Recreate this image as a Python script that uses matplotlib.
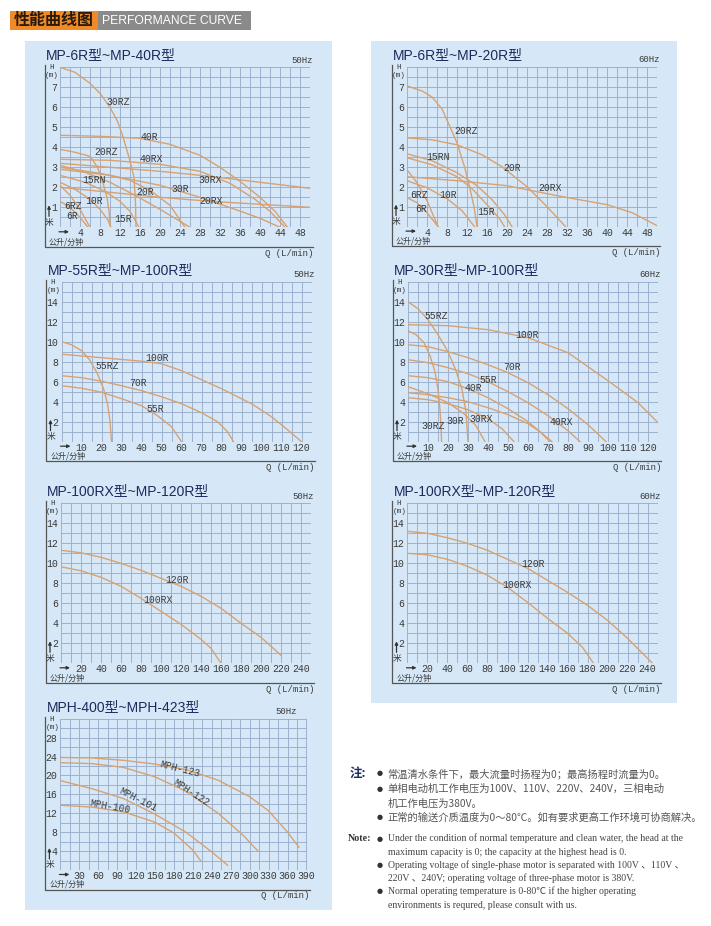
import numpy as np
import matplotlib
matplotlib.use('Agg')
import matplotlib.pyplot as plt
from matplotlib.patches import Rectangle

W, H = 711, 926

# ---------------- data (Q in L/min, H in m) ----------------
# MP-6R ~ MP-40R, 50Hz
p1_models = ['30RZ', '40R', '20RZ', '40RX', '30RX', '20RX', '30R', '20R', '15RN', '15R', '10R', '6RZ', '6R']
p1_q = [[0, 3, 6, 8, 10, 11.5, 12.5, 13.8, 14.8, 15.1, 15.2],
        [0, 8, 16, 22, 28, 32, 36, 40, 43, 45.5],
        [0, 3, 6, 7.5, 8.5, 9.4, 9.8, 10.1],
        [0, 10, 20, 28, 34, 39, 42, 45],
        [0, 10, 20, 30, 40, 50],
        [0, 10, 20, 30, 40, 50],
        [0, 10, 20, 28, 35, 40, 44],
        [0, 8, 14, 18, 22, 25],
        [0, 5, 10, 15, 20, 24, 26],
        [0, 5, 9, 12, 14, 15.8],
        [0, 3, 6, 8, 9.5, 10.2],
        [0, 2, 4, 6],
        [0, 2, 4, 5.6]]
p1_h = [[8.0, 7.75, 7.2, 6.7, 6.0, 5.3, 4.6, 3.5, 2.5, 1.2, 0],
        [4.6, 4.55, 4.45, 4.15, 3.6, 3.0, 2.3, 1.5, 0.8, 0],
        [3.9, 3.75, 3.55, 3.0, 2.3, 1.5, 0.8, 0],
        [3.4, 3.35, 3.15, 2.8, 2.2, 1.4, 0.8, 0],
        [3.2, 3.0, 2.8, 2.55, 2.25, 1.95],
        [2.0, 1.75, 1.5, 1.3, 1.15, 1.0],
        [2.9, 2.6, 2.1, 1.5, 0.9, 0.45, 0],
        [3.0, 2.7, 2.35, 1.85, 1.1, 0],
        [3.1, 2.75, 2.25, 1.6, 0.9, 0.3, 0],
        [2.6, 2.25, 1.8, 1.3, 0.8, 0],
        [2.25, 1.9, 1.4, 0.9, 0.4, 0],
        [2.1, 1.6, 0.9, 0],
        [1.3, 1.0, 0.5, 0]]

# MP-6R ~ MP-20R, 60Hz
p2_models = ['20RZ', '20R', '15RN', '15R', '20RX', '10R', '6RZ', '6R']
p2_q = [[0, 3, 5, 7, 8.6, 10, 11.5, 12.5, 13.4, 14],
        [0, 5, 10, 15, 19, 24, 28, 31.7],
        [0, 5, 10, 14, 17, 19.5, 21],
        [0, 5, 10, 13, 16, 18.5, 19.5],
        [0, 10, 20, 24, 30, 40, 45, 50],
        [0, 4, 8, 11, 13.5],
        [0, 2, 4, 6.2],
        [0, 2, 4, 6.2]]
p2_h = [[7.05, 6.8, 6.5, 5.9, 5.0, 4.2, 3.0, 2.0, 1.0, 0],
        [4.45, 4.35, 4.1, 3.6, 3.0, 2.0, 1.0, 0],
        [3.65, 3.3, 2.7, 2.05, 1.35, 0.6, 0],
        [3.45, 3.1, 2.5, 1.9, 1.1, 0.4, 0],
        [2.5, 2.3, 2.05, 1.85, 1.55, 1.1, 0.7, 0.05],
        [2.3, 1.95, 1.4, 0.8, 0],
        [2.85, 2.2, 1.3, 0],
        [1.45, 1.2, 0.7, 0]]

# MP-55R ~ MP-100R, 50Hz
p3_models = ['100R', '55RZ', '70R', '55R']
p3_q = [[0, 20, 40, 50, 60, 80, 95, 105, 113, 120],
        [0, 5, 10, 14, 18, 21, 23, 24.3, 25],
        [0, 10, 20, 30, 40, 50, 60, 70, 78, 83, 86],
        [0, 10, 20, 30, 40, 48, 55, 60]]
p3_h = [[8.75, 8.4, 8.05, 7.8, 7.1, 5.3, 3.8, 2.5, 1.2, 0],
        [10.0, 9.7, 9.1, 8.2, 6.8, 5.3, 3.8, 2.0, 0],
        [6.6, 6.4, 6.05, 5.6, 5.1, 4.5, 3.8, 2.9, 2.0, 1.0, 0],
        [5.6, 5.35, 4.95, 4.3, 3.6, 2.6, 1.5, 0]]

# MP-30R ~ MP-100R, 60Hz
p4_models = ['55RZ', '100R', '70R', '55R', '40R', '30RZ', '30R', '30RX', '40RX']
p4_q = [[0, 5, 10, 15, 20, 24, 27, 29, 30],
        [0, 20, 40, 60, 80, 100, 115, 125],
        [0, 10, 20, 30, 40, 50, 60, 70, 80, 90, 99],
        [0, 10, 20, 30, 40, 50, 60, 70, 80, 86],
        [0, 10, 20, 30, 40, 50, 60, 66, 71],
        [0, 4, 8, 11, 13.5, 15, 16, 16.5, 16.8],
        [0, 10, 20, 28, 34, 38.5],
        [0, 10, 20, 30, 40, 47, 53],
        [0, 10, 20, 30, 40, 50, 60, 66, 72]]
p4_h = [[14.0, 13.3, 12.2, 10.7, 9.0, 7.1, 5.2, 3.0, 0],
        [11.7, 11.6, 11.2, 10.4, 8.9, 6.1, 3.9, 1.9],
        [9.7, 9.5, 9.0, 8.4, 7.7, 6.9, 5.9, 4.7, 3.3, 1.7, 0],
        [8.2, 7.9, 7.4, 6.8, 6.0, 5.0, 3.9, 2.6, 1.1, 0],
        [6.6, 6.4, 6.0, 5.3, 4.4, 3.3, 2.0, 1.0, 0],
        [11.1, 10.7, 9.9, 8.6, 7.0, 5.2, 3.2, 1.5, 0],
        [5.5, 4.8, 3.9, 2.8, 1.6, 0],
        [4.4, 4.2, 3.8, 3.2, 2.3, 1.3, 0],
        [4.9, 4.7, 4.4, 4.0, 3.4, 2.7, 1.8, 1.0, 0]]

# MP-100RX ~ MP-120R, 50Hz
p5_models = ['120R', '100RX']
p5_q = [[0, 20, 40, 60, 80, 100, 120, 140, 160, 180, 200, 220],
        [0, 20, 40, 60, 80, 100, 120, 140, 150, 160]]
p5_h = [[11.3, 11.05, 10.6, 10.0, 9.3, 8.5, 7.7, 6.7, 5.5, 4.0, 2.6, 0.8],
        [9.65, 9.25, 8.6, 7.7, 6.5, 5.2, 3.9, 2.4, 1.5, 0]]

# MP-100RX ~ MP-120R, 60Hz
p6_models = ['120R', '100RX']
p6_q = [[0, 20, 40, 60, 80, 100, 120, 140, 160, 180, 200, 220, 245],
        [0, 20, 40, 60, 80, 100, 120, 140, 160, 175, 186]]
p6_h = [[13.2, 13.0, 12.55, 12.0, 11.3, 10.4, 9.5, 8.3, 7.1, 5.8, 4.3, 2.5, 0],
        [11.0, 10.85, 10.4, 9.7, 8.8, 7.6, 6.1, 4.5, 3.0, 1.6, 0]]

# MPH-400 ~ MPH-423, 50Hz
p7_models = ['MPH-123', 'MPH-122', 'MPH-101', 'MPH-100']
p7_q = [[0, 50, 100, 150, 200, 250, 300, 330, 360, 378],
        [0, 50, 100, 150, 200, 250, 290, 313],
        [0, 50, 100, 150, 200, 240, 265],
        [0, 50, 100, 150, 180, 210, 222]]
p7_h = [[23.8, 23.7, 23.2, 22.4, 21.2, 19.0, 15.5, 12.5, 8.0, 4.8],
        [22.7, 22.5, 21.7, 19.7, 16.6, 12.0, 7.3, 4.0],
        [18.9, 17.2, 15.1, 11.8, 7.9, 3.8, 1.0],
        [13.7, 13.3, 12.3, 10.1, 7.8, 4.2, 2.0]]

notes_cn = ['常温清水条件下，最大流量时扬程为0；最高扬程时流量为0。',
            '单相电动机工作电压为100V、110V、220V、240V，三相电动',
            '机工作电压为380V。',
            '正常的输送介质温度为0～80℃。如有要求更高工作环境可协商解决。']
notes_en = ['Under the condition of normal temperature and clean water, the head at the',
            'maximum capacity is 0; the capacity at the highest head is 0.',
            'Operating voltage of single-phase motor is separated with 100V 、110V 、',
            '220V 、240V; operating voltage of three-phase motor is 380V.',
            'Normal operating temperature is 0-80℃ if the higher operating',
            'environments is requred, please consult with us.']

# ---------------- layout / style ----------------
# curve tag positions (data units) and rotations
p1_tags = [(11.6, 6.28), (17.8, 4.5), (9.3, 3.78), (18.2, 3.4), (30.1, 2.37), (30.3, 1.33),
           (24.1, 1.9), (17.0, 1.78), (6.8, 2.37), (12.7, 0.43), (6.8, 1.32), (2.6, 1.08), (2.5, 0.57)]
p2_tags = [(11.8, 4.77), (21.0, 2.93), (6.1, 3.5), (15.9, 0.75), (28.6, 1.93), (8.3, 1.56), (2.5, 1.6), (2.9, 0.87)]
p3_tags = [(47.6, 8.33), (23.0, 7.57), (38.0, 5.84), (46.8, 3.27)]
p4_tags = [(14.0, 12.57), (59.3, 10.7), (51.8, 7.5), (40.2, 6.2), (32.7, 5.34), (12.7, 1.6),
           (23.8, 2.1), (36.8, 2.24), (76.8, 2.0)]
p5_tags = [(115.7, 8.33), (97.3, 6.33)]
p6_tags = [(125.8, 9.89), (109.2, 7.8)]
p7_tags = [(189.5, 21.4), (208, 16.4), (123.5, 14.8), (78.6, 13.4)]
p7_rot = [-14, -33, -27, -10]

BG = '#d6e8f7'
GRID = '#98aecb'
CURVE = '#d6a273'
INK = '#3a3a3a'
NAVY = '#1c2a5e'
MONO = 'Liberation Mono'
SANS = ['Liberation Sans', 'Noto Sans CJK SC']
CJK = ['Noto Sans CJK SC', 'DejaVu Sans']

fig = plt.figure(figsize=(W / 100, H / 100), dpi=100)
bg = fig.add_axes([0, 0, 1, 1])
bg.set_xlim(0, W)
bg.set_ylim(H, 0)
bg.axis('off')

# header
bg.add_patch(Rectangle((9.5, 10.5), 88, 19, color='#ef8a26', lw=0))
bg.add_patch(Rectangle((97.5, 10.5), 153, 19, color='#8a8a8a', lw=0))
bg.text(53.5, 20, '性能曲线图', ha='center', va='center', fontsize=11.5, fontweight='bold',
        family=CJK, color='#2a1a0c')
bg.text(101.5, 20.5, 'PERFORMANCE CURVE', ha='left', va='center', fontsize=8.7,
        family='Liberation Sans', color='white')

# column backgrounds
bg.add_patch(Rectangle((25, 41), 307, 869, color=BG, lw=0))
bg.add_patch(Rectangle((371, 41), 306, 662, color=BG, lw=0))


def panel(box, xmax, ymax, xstep, ystep, xt, yt, q, h, names, tags, title, hz, hz_x=None, rot=None):
    gx0, gy0, gx1, gy1 = box
    ax = fig.add_axes([gx0 / W, 1 - gy1 / H, (gx1 - gx0) / W, (gy1 - gy0) / H])
    ax.set_facecolor('none')
    ax.set_xlim(0, xmax)
    ax.set_ylim(0, ymax)
    ax.set_xticks(np.arange(0, xmax + 1e-6, xstep), minor=True)
    ax.set_yticks(np.arange(0, ymax + 1e-6, ystep), minor=True)
    ax.set_xticks(xt, labels=[str(v) for v in xt], fontfamily=MONO, fontsize=7.1, color=INK)
    ax.set_yticks(yt, labels=[str(v) for v in yt], fontfamily=MONO, fontsize=7.1, color=INK)
    ax.grid(True, which='both', color=GRID, lw=0.65)
    ax.set_axisbelow(True)
    for s in ax.spines.values():
        s.set_visible(False)
    ax.tick_params(axis='x', which='both', length=0, pad=0.8)
    ax.tick_params(axis='y', which='both', length=0, pad=2.2)
    for qq, hh in zip(q, h):
        ax.plot(qq, hh, color=CURVE, lw=1.0)
    for i, (name, (tx, ty)) in enumerate(zip(names, tags)):
        r = rot[i] if rot else 0
        ax.text(tx, ty, name, ha='center', va='center', fontsize=7, family=MONO,
                color=INK, rotation=r)

    # frame and decorations in pixel space
    fx, fy = gx0 - 15.5, gy1 + 19.5
    bg.plot([fx, fx, gx1 + 3], [gy0 - 2, fy, fy], color='#555555', lw=0.9)
    bg.text(gx0 - 14, gy0 - 12, title, ha='left', va='center', fontsize=10,
            family=SANS, color=NAVY)
    bg.text(hz_x if hz_x else gx1 + 3, gy0 - 7, hz, ha='right', va='center',
            fontsize=6.5, family=MONO, color=INK)
    bg.text(gx0 - 8.5, gy0 + 0.5, 'H', ha='center', va='center', fontsize=5.5,
            family=MONO, color=INK)
    bg.text(gx0 - 8, gy0 + 8.5, '(m)', ha='center', va='center', fontsize=5.5,
            family=MONO, color=INK)
    bg.annotate('', xy=(gx0 - 11, gy1 - 22), xytext=(gx0 - 11, gy1 - 11),
                arrowprops=dict(arrowstyle='-|>', color='#333333', lw=0.9, mutation_scale=4.5,
                                shrinkA=0, shrinkB=0))
    bg.text(gx0 - 10.5, gy1 - 5, '米', ha='center', va='center', fontsize=6.3,
            family=CJK, color=INK)
    bg.annotate('', xy=(gx0 + 9, gy1 + 4.5), xytext=(gx0 - 1, gy1 + 4.5),
                arrowprops=dict(arrowstyle='-|>', color='#333333', lw=0.9, mutation_scale=4.5,
                                shrinkA=0, shrinkB=0))
    bg.text(gx0 - 11, gy1 + 14.5, '公升/分钟', ha='left', va='center', fontsize=5.8,
            family=CJK, color=INK)
    bg.text(gx1 + 3, fy + 6.5, 'Q (L/min)', ha='right', va='center', fontsize=6.5,
            family=MONO, color=INK)


panel((60, 67.3, 310, 227.3), 50, 8, 2, 0.5, list(range(4, 49, 4)), list(range(1, 8)),
      p1_q, p1_h, p1_models, p1_tags, 'MP-6R型~MP-40R型', '50Hz')
panel((407, 67, 657, 226.6), 50, 8, 2, 0.5, list(range(4, 49, 4)), list(range(1, 8)),
      p2_q, p2_h, p2_models, p2_tags, 'MP-6R型~MP-20R型', '60Hz')
panel((61.5, 281.7, 311.5, 441.7), 125, 16, 5, 1, list(range(10, 121, 10)), list(range(2, 15, 2)),
      p3_q, p3_h, p3_models, p3_tags, 'MP-55R型~MP-100R型', '50Hz')
panel((408, 281.7, 658, 441.7), 125, 16, 5, 1, list(range(10, 121, 10)), list(range(2, 15, 2)),
      p4_q, p4_h, p4_models, p4_tags, 'MP-30R型~MP-100R型', '60Hz')
panel((61, 503.3, 311, 663.3), 250, 16, 10, 1, list(range(20, 241, 20)), list(range(2, 15, 2)),
      p5_q, p5_h, p5_models, p5_tags, 'MP-100RX型~MP-120R型', '50Hz')
panel((407.5, 503.3, 657.5, 663.3), 250, 16, 10, 1, list(range(20, 241, 20)), list(range(2, 15, 2)),
      p6_q, p6_h, p6_models, p6_tags, 'MP-100RX型~MP-120R型', '60Hz')
panel((60.4, 718.7, 306.5, 870), 390, 32, 15, 2, list(range(30, 391, 30)), list(range(4, 29, 4)),
      p7_q, p7_h, p7_models, p7_tags, 'MPH-400型~MPH-423型', '50Hz', hz_x=297, rot=p7_rot)

# notes
bg.text(350, 773.5, '注:', ha='left', va='center', fontsize=9, fontweight='bold',
        family=CJK, color=NAVY)
cn_y = [773.5, 789, 804, 817.5]
cn_bullet = [True, True, False, True]
for t, y, b in zip(notes_cn, cn_y, cn_bullet):
    if b:
        bg.text(379.5, y, '●', ha='center', va='center', fontsize=5, family='DejaVu Sans', color='#333333')
    bg.text(387.5, y, t, ha='left', va='center', fontsize=7.4, family=CJK, color='#555555')

bg.text(348, 838.5, 'Note:', ha='left', va='center', fontsize=7.2, fontweight='bold',
        family='Liberation Serif', color='#333333')
en_y = [838.5, 852.5, 865, 878.5, 891.5, 905]
en_bullet = [True, False, True, False, True, False]
for t, y, b in zip(notes_en, en_y, en_bullet):
    if b:
        bg.text(379.5, y, '●', ha='center', va='center', fontsize=5, family='DejaVu Sans', color='#333333')
    bg.text(388, y, t, ha='left', va='center', fontsize=7.05,
            family=['Liberation Serif', 'Noto Sans CJK SC'], color='#444444')

fig.savefig('out.png', dpi=100)
